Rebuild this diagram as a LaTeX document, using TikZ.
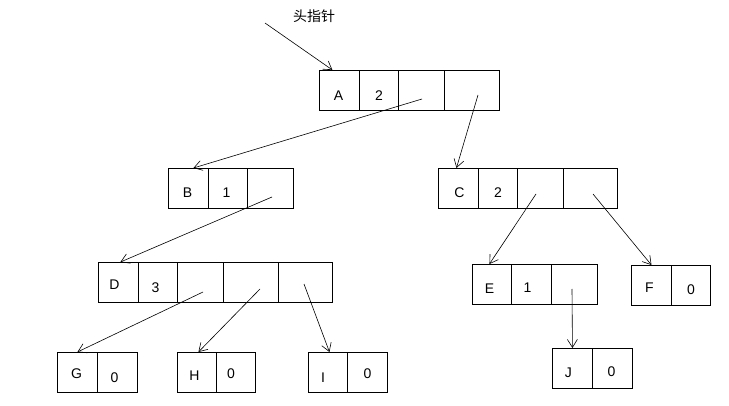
\documentclass[tikz,border=0pt]{standalone}
\usepackage{fontspec}
\setmainfont{Liberation Sans}
\newfontfamily\cjkfont{Noto Sans CJK SC}
\usetikzlibrary{arrows.meta}
% place a cell entry offset by (#1 right, #2 down) from the cell centre
\newcommand\tx[3]{\hspace*{#1pt}\raisebox{-#2pt}[\height][\depth]{#3}\hspace*{-#1pt}}
\begin{document}
\begin{tikzpicture}[x=1pt,y=-1pt,
  cell/.style={draw,line width=0.9pt,anchor=north west,inner sep=0pt,
    minimum height=40pt,font=\fontsize{14}{16}\selectfont},
  ptr/.style={line width=0.6pt,-{Straight Barb[length=8pt,width=10pt]}}]
\useasboundingbox (0,0) rectangle (729,406);
% head pointer label
\node[font=\cjkfont\fontsize{14}{16}\selectfont] (head) at (314,16) {头指针};
\coordinate (hs) at (265,23);
% row 0
\node[cell,minimum width=40pt] (A1) at (319,70) {\tx{-1}{5}{A}};
\node[cell,minimum width=39pt] (A2) at (359,70) {\tx{0}{5}{2}};
\node[cell,minimum width=46pt] (A3) at (398,70) {};
\node[cell,minimum width=55pt] (A4) at (444,70) {};
% row 1
\node[cell,minimum width=40pt] (B1) at (168,168) {\tx{-1}{4}{B}};
\node[cell,minimum width=39pt] (B2) at (208,168) {\tx{-1.5}{4}{1}};
\node[cell,minimum width=46pt] (B3) at (247,168) {};
\node[cell,minimum width=40pt] (C1) at (438,168) {\tx{1}{4}{C}};
\node[cell,minimum width=39pt] (C2) at (478,168) {\tx{0}{4}{2}};
\node[cell,minimum width=46pt] (C3) at (517,168) {};
\node[cell,minimum width=54pt] (C4) at (563,168) {};
% row 2
\node[cell,minimum width=40pt] (D1) at (98,262) {\tx{-4}{2}{D}};
\node[cell,minimum width=39pt] (D2) at (138,262) {\tx{-2.5}{5}{3}};
\node[cell,minimum width=46pt] (D3) at (177,262) {};
\node[cell,minimum width=55pt] (D4) at (223,262) {};
\node[cell,minimum width=54pt] (D5) at (278,262) {};
\node[cell,minimum width=39pt] (E1) at (472,264) {\tx{-2.5}{4}{E}};
\node[cell,minimum width=40pt] (E2) at (511,264) {\tx{-4}{3}{1}};
\node[cell,minimum width=46pt] (E3) at (551,264) {};
\node[cell,minimum width=40pt] (F1) at (631,265) {\tx{-2}{2}{F}};
\node[cell,minimum width=39pt] (F2) at (671,265) {\tx{0}{4}{0}};
% row 3
\node[cell,minimum width=40pt] (G1) at (57,352) {\tx{-1}{1}{G}};
\node[cell,minimum width=40pt] (G2) at (97,352) {\tx{-3}{5}{0}};
\node[cell,minimum width=39pt] (H1) at (177,352) {\tx{-2.5}{3}{H}};
\node[cell,minimum width=39pt] (H2) at (216,352) {\tx{-5}{1}{0}};
\node[cell,minimum width=39pt] (I1) at (308,352) {\tx{-5}{5}{I}};
\node[cell,minimum width=40pt] (I2) at (347,352) {\tx{0}{1}{0}};
\node[cell,minimum width=40pt] (J1) at (552,348) {\tx{-4}{4}{J}};
\node[cell,minimum width=40pt] (J2) at (592,348) {\tx{-1}{3}{0}};
% pointer tails inside the link cells
\coordinate (a3) at (422,99);
\coordinate (a4) at (478,95);
\coordinate (b3) at (272,197);
\coordinate (c3) at (536,194);
\coordinate (c4) at (593,194);
\coordinate (d3) at (203,292);
\coordinate (d4) at (260,289);
\coordinate (d5) at (304,284);
\coordinate (e3) at (572,289);
% links
\draw[ptr] (hs) -- ([xshift=-7pt]A1.north);
\draw[ptr] (a3) -- ([xshift=5pt]B1.north);
\draw[ptr] (a4) -- ([xshift=-2pt]C1.north);
\draw[ptr] (b3) -- ([xshift=2pt]D1.north);
\draw[ptr] (c3) -- ([xshift=-2.5pt]E1.north);
\draw[ptr] (c4) -- (F1.north);
\draw[ptr] (d3) -- (G1.north);
\draw[ptr] (d4) -- ([xshift=1.5pt]H1.north);
\draw[ptr] (d5) -- ([xshift=1.5pt]I1.north);
\draw[ptr] (e3) -- (J1.north);
\end{tikzpicture}
\end{document}
